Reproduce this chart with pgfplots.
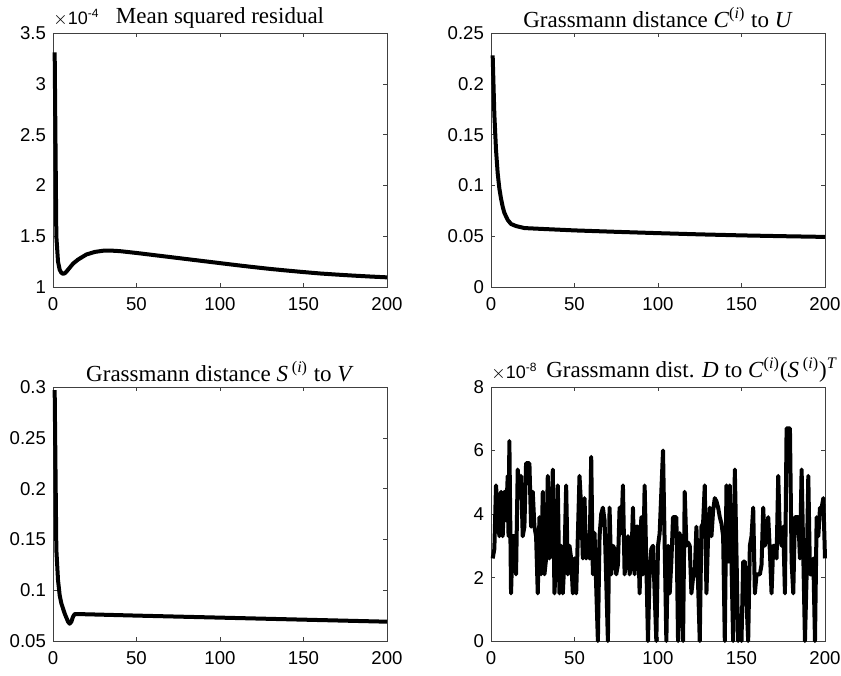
\documentclass[border=0pt]{standalone}
\usepackage{pgfplots}
\pgfplotsset{compat=1.18}
\usepackage{fontspec}
\setmainfont{Liberation Sans}
\newfontfamily\tnr{Liberation Serif}

\pgfplotsset{
  mat/.style={
    width=167pt, height=127pt, scale only axis, anchor=south west,
    xmin=0, xmax=200, xtick={0,50,100,150,200},
    tick align=inside, major tick length=1.8pt,
    axis line style={black!75}, major tick style={black!75},
    tick label style={font=\fontsize{9.3}{10}\selectfont},
    xticklabel style={yshift=-1.5pt},
    /pgf/number format/assume math mode=true,
    scaled y ticks=false,
    yticklabel style={/pgf/number format/fixed, /pgf/number format/precision=2},
    title style={font=\tnr\fontsize{11.5}{13}\selectfont, yshift=-7pt},
    clip=false,
    every axis plot post/.append style={black, line width=2pt, mark=none, line join=round},
  }
}
\newcommand{\expo}[1]{\node[anchor=south west, inner sep=0pt, font=\fontsize{9}{10}\selectfont] at (rel axis cs:0,1) [yshift=3pt] {$\times$10\textsuperscript{-#1}};}

\begin{document}
\begin{tikzpicture}
% mean squared residual (x 1e-4)
\begin{axis}[mat, at={(26.5pt,194pt)}, ymin=1, ymax=3.5, ytick={1,1.5,2,2.5,3,3.5},
  title={Mean squared residual}]
\addplot coordinates {(1,3.31)(2,1.5)(3,1.25)(4,1.17)(5,1.14)(6,1.13)(7,1.135)(8,1.15)(10,1.19)(12,1.23)(15,1.27)(20,1.32)(25,1.345)(30,1.357)(35,1.358)(40,1.353)(50,1.335)(60,1.315)(70,1.295)(80,1.275)(90,1.255)(100,1.235)(110,1.215)(120,1.196)(130,1.178)(140,1.162)(150,1.147)(160,1.133)(170,1.122)(180,1.112)(190,1.103)(200,1.095)};
\expo{4}
\end{axis}

% distance C to U
\begin{axis}[mat, at={(245.5pt,194pt)}, ymin=0, ymax=0.25, ytick={0,0.05,0.1,0.15,0.2,0.25},
  title={Grassmann distance \textit{C}\textsuperscript{(\textit{i})} to \textit{U}}]
\addplot coordinates {(1,0.228)(2,0.17)(3,0.135)(4,0.112)(5,0.097)(6,0.087)(7,0.079)(8,0.073)(10,0.066)(12,0.062)(15,0.06)(20,0.058)(30,0.0572)(50,0.0557)(75,0.0543)(100,0.0530)(125,0.0518)(150,0.0508)(175,0.0500)(200,0.0493)};
\end{axis}

% distance S to V
\begin{axis}[mat, at={(26.5pt,17pt)}, ymin=0.05, ymax=0.3, ytick={0.05,0.1,0.15,0.2,0.25,0.3},
  title={Grassmann distance \textit{S}\,\textsuperscript{(\textit{i})} to \textit{V}}]
\addplot coordinates {(1,0.297)(2,0.14)(3,0.11)(4,0.095)(5,0.087)(6,0.082)(7,0.077)(8,0.073)(9,0.069)(10,0.067)(11,0.069)(12,0.074)(13,0.0765)(15,0.0765)(20,0.0763)(50,0.0750)(100,0.0730)(150,0.0710)(200,0.0690)};
\end{axis}

% distance D (x 1e-8)
\begin{axis}[mat, at={(245.5pt,17pt)}, ymin=0, ymax=8, ytick={0,2,4,6,8},
  title style={xshift=17pt},
  title={Grassmann dist. \textit{D} to \textit{C}\textsuperscript{(\textit{i})}(\textit{S}\,\textsuperscript{(\textit{i})})\textsuperscript{\textit{T}}}]
\addplot coordinates {(1,2.6)(2,2.9)(3,4.9)(5,3.3)(6,4.7)(7,3.3)(8,4.7)(9,3.8)(10,5.2)(10.5,3.3)(11,6.3)(12,1.5)(13,3.3)(14,3.3)(15,2.1)(16,5.4)(17,4.7)(18,5.2)(19,3.3)(20,3.6)(21,5.6)(23,5.6)(24,3.6)(25,4.7)(26,3.6)(27,3.3)(28,1.5)(29,3.9)(30,2.1)(31,4.7)(32,2.1)(33,2.6)(34,5.2)(35,2.6)(36,3.3)(37,5.4)(38,1.5)(39,2.6)(40,4.9)(41,1.5)(42,3.0)(43,1.5)(44,2.6)(45,4.9)(46,2.1)(47,3.0)(48,2.6)(49,1.5)(50,2.6)(51,1.5)(52,3.3)(53,5.2)(54,4.2)(55,2.6)(56,4.5)(57,2.6)(58,2.9)(59,2.6)(60,5.8)(61,2.1)(62,3.4)(64,0)(65,3.3)(66,4.0)(67,4.2)(68,3.8)(70,0)(71,4.2)(72,2.1)(73,3.0)(74,2.9)(75,2.1)(76,2.4)(77,4.2)(78,3.4)(79,4.9)(80,2.1)(81,2.7)(82,3.3)(83,2.1)(84,2.4)(85,4.2)(86,2.1)(87,3.6)(88,3.6)(89,1.5)(90,3.9)(91,2.1)(92,4.9)(94,0)(95,2.2)(96,2.9)(97,3.0)(99,0)(100,3.0)(101,3.4)(103,6.0)(105,0)(106,3.0)(107,1.5)(108,2.5)(109,3.9)(110,3.9)(111,3.9)(112,0)(113,3.4)(115,0)(116,4.7)(117,3.0)(118,3.1)(119,3.0)(120,1.5)(121,2.0)(122,2.1)(123,3.6)(125,0)(126,3.6)(127,3.7)(128,4.9)(129,1.5)(130,3.3)(131,4.2)(132,3.3)(133,4.1)(134,4.5)(135,4.4)(136,4.2)(137,3.9)(138,3.7)(139,3.3)(140,0)(141,4.9)(142,2.5)(143,4.9)(145,0)(146,5.4)(148,0)(149,0.8)(150,0)(151,2.5)(152,2.5)(154,0)(155,3.0)(156,3.3)(157,4.2)(158,1.5)(159,2.1)(160,2.1)(161,2.1)(162,2.4)(163,4.2)(164,3.0)(165,3.4)(166,3.9)(167,2.8)(168,1.5)(169,3.0)(170,3.0)(171,2.6)(172,5.2)(173,3.3)(174,3.0)(175,3.6)(176,1.5)(177,6.7)(178,6.7)(179,6.7)(180,2.5)(181,1.5)(182,3.9)(183,3.9)(184,3.9)(185,2.6)(186,5.4)(188,0)(189,2.1)(190,5.2)(191,2.1)(192,2.1)(193,2.6)(194,0)(195,3.9)(196,3.3)(197,4.2)(198,4.2)(199,4.5)(200,2.6)};
\expo{8}
\end{axis}
\pgfresetboundingbox
\path (0,0) rectangle (420.5pt,337.5pt);
\end{tikzpicture}
\end{document}
